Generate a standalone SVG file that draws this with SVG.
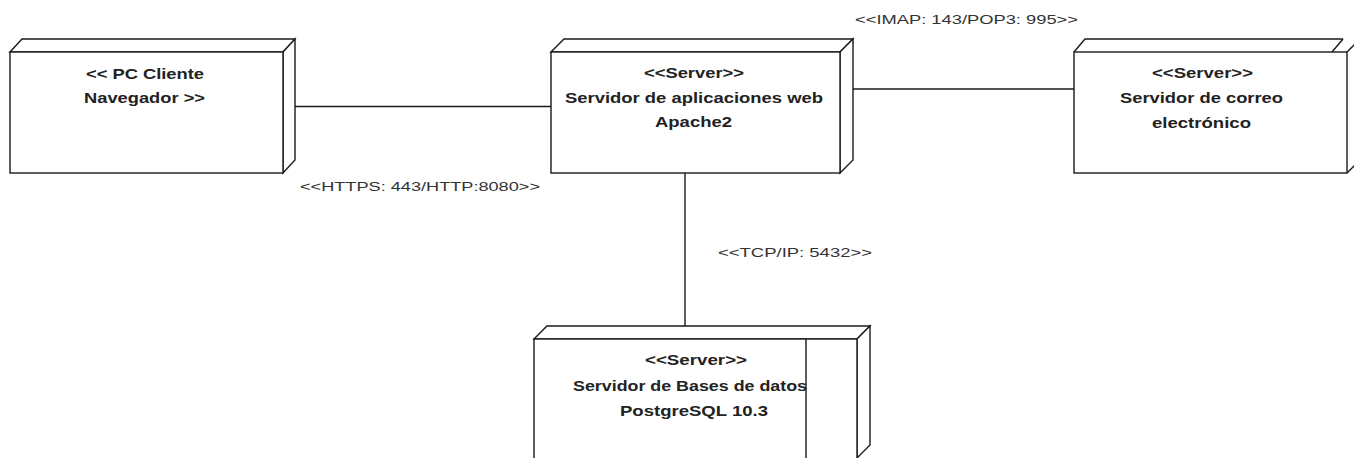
<svg xmlns="http://www.w3.org/2000/svg" width="1354" height="458" viewBox="0 0 1354 458">
<style>
.edge{fill:none;stroke:#1a1a1a;stroke-width:1.4;stroke-linejoin:miter}
.face{fill:#ffffff;stroke:#1a1a1a;stroke-width:1.4;stroke-linejoin:miter}
.conn{fill:none;stroke:#1a1a1a;stroke-width:1.4}
.nt{font-family:"Liberation Sans",Arial,sans-serif;font-weight:bold;font-size:15px;fill:#222}
.lb{font-family:"Liberation Sans",Arial,sans-serif;font-size:13px;fill:#333}
</style>
<rect width="1354" height="458" fill="#ffffff"/>
<g id="connectors">
<line class="conn" x1="295" y1="106.5" x2="551" y2="106.5"/>
<line class="conn" x1="853" y1="89" x2="1074" y2="89"/>
<line class="conn" x1="685" y1="173" x2="685" y2="326"/>
<text class="lb" x="300" y="191" textLength="240" lengthAdjust="spacingAndGlyphs">&lt;&lt;HTTPS: 443/HTTP:8080&gt;&gt;</text>
<text class="lb" x="855" y="24" textLength="223" lengthAdjust="spacingAndGlyphs">&lt;&lt;IMAP: 143/POP3: 995&gt;&gt;</text>
<text class="lb" x="718" y="257" textLength="154" lengthAdjust="spacingAndGlyphs">&lt;&lt;TCP/IP: 5432&gt;&gt;</text>
</g>
<g id="node-pc-cliente">
<polygon class="face" points="10,52 22,39 295,39 283,52"/>
<polygon class="face" points="283,52 295,39 295,160 283,173"/>
<rect class="face" x="10" y="52" width="273" height="121"/>
<text class="nt" x="86" y="79" textLength="118" lengthAdjust="spacingAndGlyphs">&lt;&lt; PC Cliente</text>
<text class="nt" x="84" y="103" textLength="121" lengthAdjust="spacingAndGlyphs">Navegador &gt;&gt;</text>
</g>
<g id="node-servidor-web">
<polygon class="face" points="551,52 564,39 853,39 840,52"/>
<polygon class="face" points="840,52 853,39 853,160 840,173"/>
<rect class="face" x="551" y="52" width="289" height="121"/>
<text class="nt" x="644" y="77.5" textLength="100" lengthAdjust="spacingAndGlyphs">&lt;&lt;Server&gt;&gt;</text>
<text class="nt" x="565" y="102.5" textLength="258" lengthAdjust="spacingAndGlyphs">Servidor de aplicaciones web</text>
<text class="nt" x="655" y="127" textLength="77" lengthAdjust="spacingAndGlyphs">Apache2</text>
</g>
<g id="node-servidor-correo">
<polyline class="edge" points="1074,52 1085,39 1343,39"/>
<line class="edge" x1="1332" y1="52" x2="1343" y2="39"/>
<line class="edge" x1="1347" y1="52" x2="1355" y2="44"/>
<line class="edge" x1="1347" y1="173" x2="1355" y2="165"/>
<rect class="face" x="1074" y="52" width="273" height="121"/>
<text class="nt" x="1152" y="77.5" textLength="101" lengthAdjust="spacingAndGlyphs">&lt;&lt;Server&gt;&gt;</text>
<text class="nt" x="1120" y="103" textLength="163" lengthAdjust="spacingAndGlyphs">Servidor de correo</text>
<text class="nt" x="1152" y="127.5" textLength="99" lengthAdjust="spacingAndGlyphs">electrónico</text>
</g>
<g id="node-servidor-bd">
<polygon class="face" points="534,339 547,326 870,326 857,339"/>
<polygon class="face" points="857,339 870,326 870,445 857,458"/>
<rect class="face" x="534" y="339" width="323" height="122"/>
<line class="edge" x1="806" y1="339" x2="806" y2="460"/>
<text class="nt" x="645" y="365" textLength="102" lengthAdjust="spacingAndGlyphs">&lt;&lt;Server&gt;&gt;</text>
<text class="nt" x="573" y="391" textLength="234" lengthAdjust="spacingAndGlyphs">Servidor de Bases de datos</text>
<text class="nt" x="620" y="416" textLength="148" lengthAdjust="spacingAndGlyphs">PostgreSQL 10.3</text>
</g>
</svg>
